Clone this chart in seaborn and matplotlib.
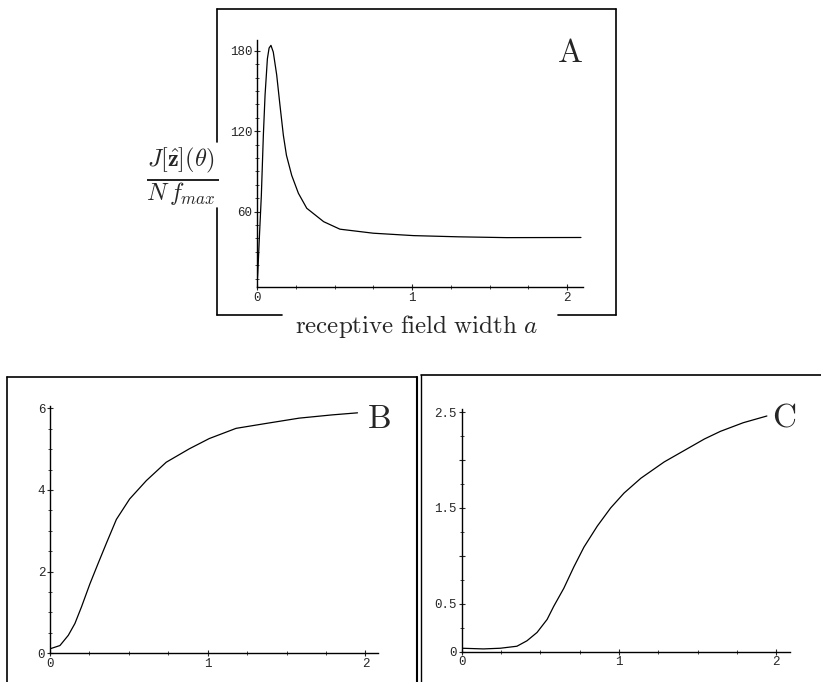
import numpy as np
import pandas as pd
import seaborn as sns
import matplotlib.pyplot as plt
from matplotlib.lines import Line2D
from matplotlib.ticker import MultipleLocator, FixedLocator

# panel A: information vs receptive field width a
a_x = [0.0, 0.005, 0.015, 0.028, 0.041, 0.052, 0.067, 0.078, 0.090, 0.105, 0.127,
       0.148, 0.170, 0.19, 0.224, 0.267, 0.321, 0.43, 0.535, 0.75, 1.01, 1.3,
       1.61, 2.09]
a_y = [5, 14, 40, 72, 117, 147, 174, 182, 184, 179, 162, 139.5, 117, 102, 87,
       73.7, 62.5, 52.5, 46.9, 43.9, 42.1, 41.2, 40.6, 40.7]

# panel B
b_x = [0.0, 0.063, 0.116, 0.158, 0.2, 0.253, 0.305, 0.358, 0.421, 0.505, 0.611,
       0.737, 0.884, 1.01, 1.18, 1.37, 1.58, 1.79, 1.95]
b_y = [0.11, 0.19, 0.44, 0.73, 1.14, 1.70, 2.20, 2.70, 3.28, 3.78, 4.23, 4.68,
       5.01, 5.26, 5.51, 5.63, 5.76, 5.84, 5.89]

# panel C
c_x = [0.0, 0.138, 0.245, 0.351, 0.415, 0.479, 0.543, 0.585, 0.649, 0.713, 0.777,
       0.862, 0.947, 1.032, 1.139, 1.287, 1.415, 1.543, 1.645, 1.79, 1.94]
c_y = [0.034, 0.027, 0.034, 0.055, 0.112, 0.199, 0.335, 0.472, 0.66, 0.884, 1.09,
       1.31, 1.50, 1.655, 1.81, 1.98, 2.10, 2.22, 2.30, 2.39, 2.46]

sns.set_style("white")
plt.rcParams['font.family'] = ['Liberation Mono', 'DejaVu Sans']
plt.rcParams['mathtext.fontset'] = 'cm'

W, H = 821, 682
fig = plt.figure(figsize=(8.21, 6.82), dpi=100)


def px_axes(x0, y0, x1, y1):
    # pixel box (top-left origin) -> figure axes
    return fig.add_axes([x0 / W, 1 - y1 / H, (x1 - x0) / W, (y1 - y0) / H])


def style(ax, xlim, ylim):
    ax.set_xlim(*xlim)
    ax.set_ylim(*ylim)
    ax.spines['top'].set_visible(False)
    ax.spines['right'].set_visible(False)
    for s in ['left', 'bottom']:
        ax.spines[s].set_linewidth(1.0)
        ax.spines[s].set_color('black')
    ax.tick_params(which='major', direction='inout', length=5, width=0.8,
                   labelsize=9, pad=1, left=True, bottom=True)
    ax.tick_params(which='minor', direction='inout', length=2.5, width=0.6,
                   left=True, bottom=True)
    ax.set_xlabel('')
    ax.set_ylabel('')
    ax.xaxis.set_major_locator(FixedLocator([0, 1, 2]))
    ax.xaxis.set_minor_locator(MultipleLocator(0.25))
    ax.set_xticklabels(['0', '1', '2'])


line_kw = dict(color='black', linewidth=0.9)

# panel A
axA = px_axes(257, 40, 582.5, 286.7)
sns.lineplot(x=a_x, y=a_y, ax=axA, **line_kw)
style(axA, (0, 2.1), (4, 188))
axA.yaxis.set_major_locator(FixedLocator([60, 120, 180]))
axA.yaxis.set_minor_locator(MultipleLocator(10))

# panel B
axB = px_axes(50, 406.3, 378, 653.3)
sns.lineplot(x=b_x, y=b_y, ax=axB, **line_kw)
style(axB, (0, 2.08), (0, 6.05))
axB.yaxis.set_major_locator(FixedLocator([0, 2, 4, 6]))
axB.yaxis.set_minor_locator(MultipleLocator(0.5))

# panel C
axC = px_axes(461.7, 409.3, 790, 651.5)
sns.lineplot(x=c_x, y=c_y, ax=axC, **line_kw)
style(axC, (0, 2.087), (0, 2.53))
axC.yaxis.set_major_locator(FixedLocator([0, 0.5, 1.0, 1.5, 2.0, 2.5]))
axC.set_yticklabels(['0', '0.5', '', '1.5', '', '2.5'])
axC.yaxis.set_minor_locator(MultipleLocator(0.25))

# panel letters
fig.text(570 / W, 1 - 53 / H, r'$\mathrm{A}$', fontsize=24, ha='center', va='center')
fig.text(379 / W, 1 - 419 / H, r'$\mathrm{B}$', fontsize=24, ha='center', va='center')
fig.text(784 / W, 1 - 418 / H, r'$\mathrm{C}$', fontsize=24, ha='center', va='center')

# axis titles of panel A
fig.text(417 / W, 1 - 327 / H, r'$\mathrm{receptive\ field\ width}\ a$',
         fontsize=18, ha='center', va='center')
fig.text(182 / W, 1 - 177 / H,
         r'$\frac{J[\hat{\mathbf{z}}](\theta)}{N\,f_{max}}$',
         fontsize=25, ha='center', va='center')


def fline(xs, ys, lw=1.2):
    fig.add_artist(Line2D([x / W for x in xs], [1 - y / H for y in ys],
                          color='black', linewidth=lw))


# frame around panel A (gaps for the labels)
fline([217, 616], [9, 9])
fline([616, 616], [9, 315])
fline([217, 217], [9, 142])
fline([217, 217], [208, 315])
fline([217, 282], [315, 315])
fline([558, 616], [315, 315])

# frames around panels B and C
fline([7, 417], [377, 377])
fline([7, 7], [377, 682])
fline([417, 417], [377, 682], lw=1.5)
fline([421, 421], [375, 682], lw=1.0)
fline([421, 821], [375, 375])

fig.savefig('out.png', dpi=100)
